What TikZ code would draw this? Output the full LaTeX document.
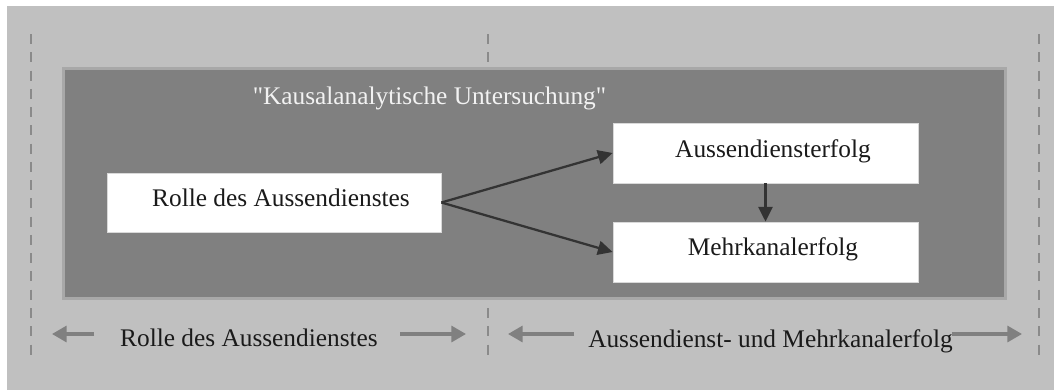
\documentclass[tikz,border=0pt]{standalone}
\usepackage{fontspec}
\setmainfont{Liberation Serif}[Ligatures=TeXOff]
\usetikzlibrary{arrows.meta}
\definecolor{pagebg}{HTML}{C0C0C0}
\definecolor{panel}{HTML}{808080}
\definecolor{panelrim}{HTML}{A8A8A8}
\definecolor{guide}{HTML}{8A8A8A}
\definecolor{ink}{HTML}{333333}
\definecolor{textdark}{HTML}{1A1A1A}
\begin{document}
\begin{tikzpicture}[x=0.75pt,y=-0.75pt,
  every node/.style={font=\fontsize{19}{22}\selectfont},
  whitebox/.style={draw=black!15,line width=0.6pt,fill=white,inner sep=0pt},
  guideline/.style={guide,line width=1.7pt,dash pattern=on 7.5pt off 6.2pt},
  flow/.style={ink,line width=1.7pt,-{Triangle[length=11pt,width=10.5pt]}},
  span/.style={panel,line width=2.4pt,-{Triangle[length=11pt,width=12pt]}},
  lbl/.style={anchor=base,inner sep=0pt,text=textdark}]
  % canvas and light background
  \fill[white] (0,0) rectangle (1054,390);
  \useasboundingbox (0,0) rectangle (1054,390);
  \fill[pagebg] (7,6) rectangle (1054,390);

  % vertical dashed guides
  \coordinate (gL1) at (31,34);   \coordinate (gL2) at (31,362);
  \coordinate (gM1) at (488,34);  \coordinate (gM2) at (488,362);
  \coordinate (gR1) at (1039,34); \coordinate (gR2) at (1039,362);
  \draw[guideline] (gL1) -- (gL2);
  \draw[guideline] (gM1) -- (gM2);
  \draw[guideline] (gR1) -- (gR2);

  % dark study panel
  \node[draw=panelrim,fill=panel,line width=2.2pt,inner sep=0pt,
        minimum width=942*0.75pt,minimum height=230*0.75pt]
        (panel) at (534.5,183.5) {};
  \node[anchor=base,inner sep=0pt,text=black!5] (title) at (429.5,104)
        {"Kausalanalytische Untersuchung"};

  % boxes
  \node[whitebox,minimum width=334*0.75pt,minimum height=59*0.75pt]
        (rolle) at (274,202.5) {};
  \node[whitebox,minimum width=305*0.75pt,minimum height=60*0.75pt]
        (aussen) at (765.5,153) {};
  \node[whitebox,minimum width=305*0.75pt,minimum height=60*0.75pt]
        (mehr) at (765.5,252) {};
  \node[lbl] (trolle) at (281,206) {Rolle des Aussendienstes};
  \node[lbl] (taussen) at (773,157) {Aussendiensterfolg};
  \node[lbl] (tmehr) at (773,255) {Mehrkanalerfolg};

  % causal arrows
  \draw[flow] (rolle.east) -- (aussen.west);
  \draw[flow] (rolle.east) -- (mehr.west);
  \draw[flow] (aussen.south) -- (mehr.north);

  % bottom range labels
  \node[lbl] (rangeL) at (249,346.5) {Rolle des Aussendienstes};
  \node[lbl] (rangeR) at (770.5,347) {Aussendienst- und Mehrkanalerfolg};
  \coordinate (aL1) at (94,334);  \coordinate (aL2) at (52,334);
  \coordinate (aL3) at (400,334); \coordinate (aL4) at (466,334);
  \coordinate (aR1) at (574,334); \coordinate (aR2) at (508,334);
  \coordinate (aR3) at (952,334); \coordinate (aR4) at (1022,334);
  \draw[span] (aL1) -- (aL2);
  \draw[span] (aL3) -- (aL4);
  \draw[span] (aR1) -- (aR2);
  \draw[span] (aR3) -- (aR4);
\end{tikzpicture}
\end{document}
